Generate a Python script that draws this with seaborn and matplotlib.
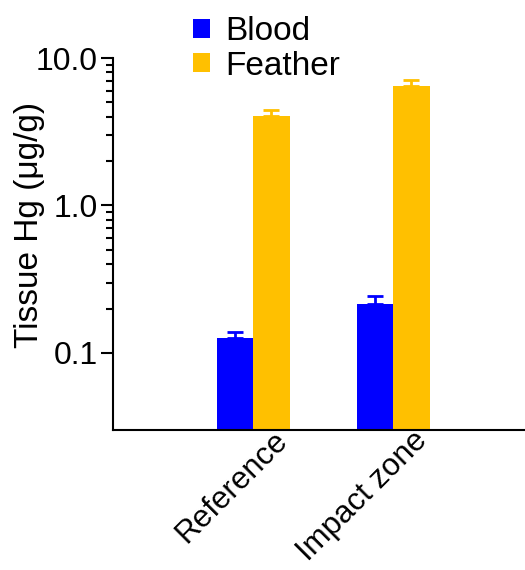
import numpy as np
import pandas as pd
import seaborn as sns
from matplotlib import pyplot as plt
from matplotlib import transforms
from matplotlib.ticker import FixedLocator, NullFormatter

sns.set_style('ticks')
plt.rcParams['font.family'] = ['Liberation Sans', 'DejaVu Sans']
for k in ('text.color', 'axes.labelcolor', 'xtick.color', 'ytick.color', 'axes.edgecolor'):
	plt.rcParams[k] = 'black'

# values (geometric means, upper SE)
sites = ['Reference', 'Impact zone']
tissues = ['Blood', 'Feather']
blood = [0.127, 0.213]
blood_se = [0.012, 0.031]
feather = [4.03, 6.48]
feather_se = [0.40, 0.60]
colors = {'Blood': '#0000ff', 'Feather': '#ffc000'}

df = pd.DataFrame({
	'site': sites * 2,
	'tissue': ['Blood'] * 2 + ['Feather'] * 2,
	'hg': blood + feather,
	'se': blood_se + feather_se,
})

fig = plt.figure(figsize=(5.25, 5.7), dpi=100)
ax = fig.add_axes([0.215, 0.2456, 0.785, 0.6526])

sns.barplot(data=df, x='site', y='hg', hue='tissue', order=sites, hue_order=tissues,
			palette=colors, width=0.52, errorbar=None, saturation=1, ax=ax, linewidth=0)
ax.set_yscale('log')

# upper-only error bars, one per bar, same colour as the bar
bars = [p for p in ax.patches if p.get_height() > 0][:4]
for p, (_, row) in zip(bars, df.iterrows()):
	xc = p.get_x() + p.get_width() / 2
	ax.errorbar(xc, row['hg'], yerr=[[0], [row['se']]], fmt='none',
				ecolor=colors[row['tissue']], elinewidth=2, capsize=6, capthick=2)

ax.set_xlim(-1, 1.94)
ax.set_ylim(0.03, 10)
ax.yaxis.set_major_locator(FixedLocator([0.1, 1, 10]))
ax.set_yticklabels(['0.1', '1.0', '10.0'])
minors = [m * d for d in (0.1, 1) for m in range(2, 10)]
ax.yaxis.set_minor_locator(FixedLocator(minors))
ax.yaxis.set_minor_formatter(NullFormatter())

ax.tick_params(axis='y', which='major', length=9, width=1.5, labelsize=23, pad=2)
ax.tick_params(axis='y', which='minor', length=5, width=1.5)
ax.tick_params(axis='x', length=0, labelsize=22.5, pad=0)
shift = transforms.ScaledTranslation(0.19, 0.045, fig.dpi_scale_trans)
for lab in ax.get_xticklabels():
	lab.set_rotation(45)
	lab.set_ha('right')
	lab.set_rotation_mode('anchor')
	lab.set_transform(lab.get_transform() + shift)

ax.set_xlabel('')
ax.set_ylabel('Tissue Hg (μg/g)', fontsize=24)
ax.yaxis.set_label_coords(-0.165, 0.55)
sns.despine(ax=ax)
for s in ('left', 'bottom'):
	ax.spines[s].set_linewidth(1.5)

ax.legend(loc='upper left', bbox_to_anchor=(0.342, 0.995), bbox_transform=fig.transFigure,
		  frameon=False, fontsize=24, handlelength=0.52, handleheight=0.52,
		  handletextpad=0.45, labelspacing=0.1, borderaxespad=0)

fig.savefig('out.png', dpi=100)
